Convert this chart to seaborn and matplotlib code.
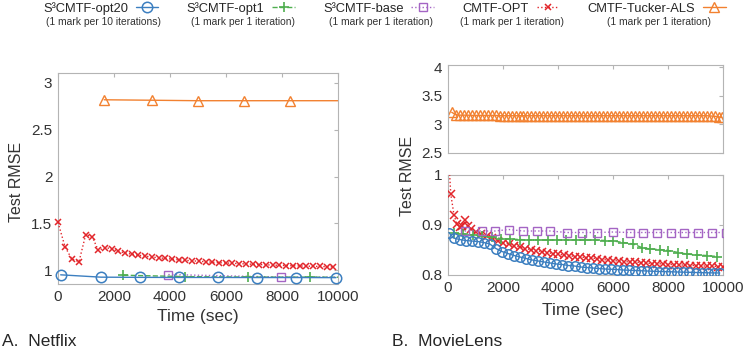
import numpy as np
import pandas as pd
import seaborn as sns
import matplotlib.pyplot as plt

# ---------------- Netflix (panel A) ----------------
nf_opt20_t = [95, 1536, 2930, 4320, 5726, 7095, 8500, 9929]
nf_opt20_v = [0.950, 0.925, 0.923, 0.922, 0.922, 0.921, 0.921, 0.920]

nf_opt1_t = [2333, 4536, 6775, 9000, 11220]
nf_opt1_v = [0.946, 0.931, 0.926, 0.925, 0.924]

nf_base_t = [3940, 7964, 11990]
nf_base_v = [0.953, 0.926, 0.924]

nf_cmtf_t = [0, 250, 490, 750, 990, 1225, 1440, 1680, 1915,
             2150, 2390, 2630, 2870, 3110, 3350, 3590, 3830, 4070, 4310, 4550,
             4790, 5030, 5270, 5510, 5750, 5990, 6230, 6470, 6710, 6950, 7190,
             7430, 7670, 7910, 8150, 8390, 8630, 8870, 9110, 9350, 9590, 9830]
nf_cmtf_v = [1.51, 1.25, 1.12, 1.09, 1.38, 1.355, 1.21, 1.24, 1.23,
             1.20, 1.185, 1.17, 1.16, 1.15, 1.14, 1.133, 1.125, 1.118, 1.11, 1.105,
             1.10, 1.095, 1.09, 1.085, 1.08, 1.077, 1.073, 1.07, 1.066, 1.063, 1.06,
             1.057, 1.054, 1.051, 1.049, 1.047, 1.045, 1.043, 1.041, 1.039, 1.037, 1.035]

nf_tucker_t = [1650, 3350, 5000, 6650, 8300, 11600]
nf_tucker_v = [2.82, 2.815, 2.81, 2.81, 2.81, 2.81]

# ---------------- MovieLens (panel B) ----------------
ml_opt20_t = [30, 200, 420, 640, 860, 1080, 1300, 1520, 1740, 1960, 2180, 2400,
              2620, 2840, 3060, 3280, 3500, 3720, 3940, 4160, 4380, 4600, 4820,
              5040, 5260, 5480, 5700, 5920, 6140, 6360, 6580, 6800, 7020, 7240,
              7460, 7680, 7900, 8120, 8340, 8560, 8780, 9000, 9220, 9440, 9660, 9880]
ml_opt20_v = [0.885, 0.874, 0.871, 0.869, 0.868, 0.867, 0.865, 0.862, 0.853, 0.847,
              0.843, 0.839, 0.836, 0.833, 0.830, 0.828, 0.826, 0.824, 0.822, 0.821,
              0.819, 0.818, 0.816, 0.815, 0.814, 0.813, 0.812, 0.8115, 0.811, 0.810,
              0.8095, 0.809, 0.8085, 0.808, 0.8075, 0.807, 0.8067, 0.8064, 0.806,
              0.8057, 0.8054, 0.805, 0.8047, 0.8044, 0.8042, 0.804]

ml_opt1_t = [222, 562, 902, 1242, 1582, 1922, 2262, 2602, 2942, 3282, 3622, 3962,
             4302, 4642, 4982, 5345, 5709, 6011, 6375, 6738, 7044, 7345, 7709,
             8011, 8375, 8680, 9044, 9407, 9771]
ml_opt1_v = [0.884, 0.882, 0.880, 0.878, 0.876, 0.873, 0.872, 0.871, 0.870, 0.870,
             0.870, 0.870, 0.870, 0.870, 0.870, 0.870, 0.869, 0.868, 0.865, 0.862,
             0.855, 0.852, 0.851, 0.849, 0.845, 0.842, 0.840, 0.839, 0.837]

ml_base_t = [607, 1225, 1709, 2218, 2727, 3225, 3709, 4316, 4890, 5429, 6011,
             6618, 7102, 7589, 8098, 8593, 9102, 9611, 10120]
ml_base_v = [0.888, 0.888, 0.888, 0.891, 0.888, 0.888, 0.888, 0.885, 0.885, 0.885,
             0.886, 0.885, 0.885, 0.885, 0.885, 0.885, 0.885, 0.885, 0.885]

ml_cmtf_t = [0, 100, 218, 316, 420, 520, 618, 720, 825,
             1000, 1200, 1400, 1600, 1800, 2000, 2200, 2400, 2600, 2800, 3000,
             3200, 3400, 3600, 3800, 4000, 4200, 4400, 4600, 4800, 5000, 5200,
             5400, 5600, 5800, 6000, 6200, 6400, 6600, 6800, 7000, 7200, 7400,
             7600, 7800, 8000, 8200, 8400, 8600, 8800, 9000, 9200, 9400, 9600,
             9800, 10000]
ml_cmtf_v = [1.06, 0.962, 0.920, 0.903, 0.896, 0.899, 0.911, 0.899, 0.892,
             0.886, 0.882, 0.878, 0.874, 0.869, 0.865, 0.862, 0.859, 0.856, 0.853,
             0.851, 0.849, 0.847, 0.845, 0.843, 0.842, 0.840, 0.839, 0.837, 0.836,
             0.835, 0.834, 0.833, 0.831, 0.830, 0.829, 0.828, 0.827, 0.826, 0.826,
             0.825, 0.824, 0.823, 0.823, 0.822, 0.821, 0.821, 0.820, 0.820, 0.819,
             0.819, 0.818, 0.818, 0.818, 0.817, 0.817]

ml_tucker_t = [135, 280, 425, 570, 715, 860, 1005, 1150, 1295, 1440,
               1585, 1730, 1875, 2020, 2165, 2310, 2455, 2600, 2745, 2890,
               3035, 3180, 3325, 3470, 3615, 3760, 3905, 4050, 4195, 4340,
               4485, 4630, 4775, 4920, 5065, 5210, 5355, 5500, 5645, 5790,
               5935, 6080, 6225, 6370, 6515, 6660, 6805, 6950, 7095, 7240,
               7385, 7530, 7675, 7820, 7965, 8110, 8255, 8400, 8545, 8690,
               8835, 8980, 9125, 9270, 9415, 9560, 9705, 9850, 9960]
ml_tucker_v = [3.21, 3.17, 3.16, 3.16, 3.16, 3.155, 3.155, 3.155, 3.155, 3.155,
               3.155, 3.155, 3.15, 3.15, 3.15, 3.15, 3.15, 3.15, 3.15, 3.15,
               3.15, 3.15, 3.15, 3.15, 3.15, 3.15, 3.15, 3.15, 3.15, 3.15,
               3.15, 3.15, 3.15, 3.15, 3.15, 3.15, 3.15, 3.15, 3.15, 3.15,
               3.15, 3.15, 3.15, 3.15, 3.15, 3.15, 3.15, 3.15, 3.15, 3.15,
               3.15, 3.15, 3.15, 3.15, 3.15, 3.15, 3.15, 3.15, 3.15, 3.15,
               3.15, 3.15, 3.15, 3.15, 3.15, 3.145, 3.14, 3.13, 3.12]

names = ["S\u00b3CMTF-opt20", "S\u00b3CMTF-opt1", "S\u00b3CMTF-base",
         "CMTF-OPT", "CMTF-Tucker-ALS"]
notes = ["(1 mark per 10 iterations)", "(1 mark per 1 iteration)",
         "(1 mark per 1 iteration)", "(1 mark per 1 iteration)",
         "(1 mark per 1 iteration)"]
x_ticks = [0, 2000, 4000, 6000, 8000, 10000]

sns.set_style("white")
plt.rcParams['font.family'] = ['Liberation Sans', 'DejaVu Sans']

W, H = 747, 349
fig = plt.figure(figsize=(W / 100, H / 100), dpi=100)
ax_nf = fig.add_axes([58 / W, (H - 284) / H, 280 / W, 211 / H])
ax_mu = fig.add_axes([448 / W, (H - 153) / H, 275 / W, 88 / H])
ax_ml = fig.add_axes([448 / W, (H - 275) / H, 275 / W, 100 / H])

sty = {
    "opt20": dict(color="#3c7fc0", linestyle="-", marker="o", lw=1.0, mew=1.1),
    "opt1": dict(color="#4fae4f", linestyle="--", marker="+", lw=1.0, mew=1.2),
    "base": dict(color="#a465c4", linestyle=":", marker="s", lw=1.0, mew=1.0),
    "cmtf": dict(color="#e2262b", linestyle=":", marker="x", lw=1.0, mew=1.1),
    "tucker": dict(color="#f28130", linestyle="-", marker="^", lw=1.0, mew=1.0),
}


def draw(ax, t, v, key, ms, label=None, clip=True, z=2):
    s = sty[key]
    sns.lineplot(x=t, y=v, ax=ax, color=s["color"], linestyle=s["linestyle"],
                 linewidth=s["lw"], marker=s["marker"], markersize=ms,
                 markerfacecolor="none", markeredgecolor=s["color"],
                 markeredgewidth=s["mew"], label=label, legend=False,
                 clip_on=clip, zorder=z)
    return ax.lines[-1]


handles = {}
handles["tucker"] = draw(ax_nf, nf_tucker_t, nf_tucker_v, "tucker", 7.5, names[4], z=2)
handles["cmtf"] = draw(ax_nf, nf_cmtf_t, nf_cmtf_v, "cmtf", 4.5, names[3], clip=False, z=3)
handles["base"] = draw(ax_nf, nf_base_t, nf_base_v, "base", 5.5, names[2], z=4)
handles["opt1"] = draw(ax_nf, nf_opt1_t, nf_opt1_v, "opt1", 7, names[1], z=5)
handles["opt20"] = draw(ax_nf, nf_opt20_t, nf_opt20_v, "opt20", 7.5, names[0], clip=False, z=6)

draw(ax_mu, ml_tucker_t, ml_tucker_v, "tucker", 7, z=2)
draw(ax_ml, ml_cmtf_t, ml_cmtf_v, "cmtf", 5.5, z=3)
draw(ax_ml, ml_opt1_t, ml_opt1_v, "opt1", 7, z=4)
draw(ax_ml, ml_base_t, ml_base_v, "base", 5.5, z=5)
draw(ax_ml, ml_opt20_t, ml_opt20_v, "opt20", 6.8, z=6)

spine_c = "#b4b4b4"
for ax in (ax_nf, ax_mu, ax_ml):
    ax.set_xlim(0, 10000)
    ax.set_xticks(x_ticks)
    for sp in ax.spines.values():
        sp.set_color(spine_c)
        sp.set_linewidth(0.8)
    ax.tick_params(direction="in", length=3, width=0.8, color=spine_c,
                   top=True, right=True, labelsize=11, labelcolor="#333333", pad=4)
    ax.set_xlabel("")
    ax.set_ylabel("")

ax_nf.set_ylim(0.852, 3.106)
ax_nf.set_yticks([1, 1.5, 2, 2.5, 3])
ax_nf.set_yticklabels(["1", "1.5", "2", "2.5", "3"])
ax_nf.set_xticklabels([str(x) for x in x_ticks])

ax_mu.set_ylim(2.5, 4.035)
ax_mu.set_yticks([2.5, 3, 3.5, 4])
ax_mu.set_yticklabels(["2.5", "3", "3.5", "4"])
ax_mu.set_xticklabels([])

ax_ml.set_ylim(0.8, 1.0)
ax_ml.set_yticks([0.8, 0.9, 1.0])
ax_ml.set_yticklabels(["0.8", "0.9", "1"])
ax_ml.set_xticklabels([str(x) for x in x_ticks])

txt_c = "#333333"
ax_nf.set_xlabel("Time (sec)", fontsize=12.5, color=txt_c)
ax_nf.xaxis.label.set_va("center")
ax_nf.xaxis.set_label_coords(0.5, (284 - 316) / 211)
ax_nf.set_ylabel("Test RMSE", fontsize=11.5, color=txt_c)
ax_nf.yaxis.label.set_va("center")
ax_nf.yaxis.set_label_coords((17 - 58) / 280, (284 - 182) / 211)

ax_ml.set_xlabel("Time (sec)", fontsize=12.5, color=txt_c)
ax_ml.xaxis.label.set_va("center")
ax_ml.xaxis.set_label_coords(0.49, (275 - 311) / 100)
fig.text(408 / W, 1 - 176 / H, "Test RMSE", rotation=90, fontsize=11.5,
         color=txt_c, ha="center", va="center")

fig.text(2 / W, 1 - 341 / H, "A.  Netflix", fontsize=12.5, ha="left", va="center")
fig.text(392 / W, 1 - 341 / H, "B.  MovieLens", fontsize=12.5, ha="left", va="center")

order = ["opt20", "opt1", "base", "cmtf", "tucker"]
leg = fig.legend([handles[k] for k in order], names, loc="upper left",
                 bbox_to_anchor=(41 / W, 1.0), ncol=5, frameon=False,
                 markerfirst=False, fontsize=9.3, handlelength=1.75,
                 handletextpad=0.6, columnspacing=2.2, borderaxespad=0.0,
                 borderpad=0.15)

fig.canvas.draw()
rend = fig.canvas.get_renderer()
for i, k in enumerate(order):
    tb = leg.get_texts()[i].get_window_extent(rend)
    hb = leg.legend_handles[i].get_window_extent(rend)
    cx = (tb.x0 + max(hb.x1, tb.x1)) / 2
    fig.text(cx / fig.bbox.width, 1 - 22 / H, notes[i], fontsize=7.4,
             color=txt_c, ha="center", va="center")

fig.savefig("out.png", dpi=100)
